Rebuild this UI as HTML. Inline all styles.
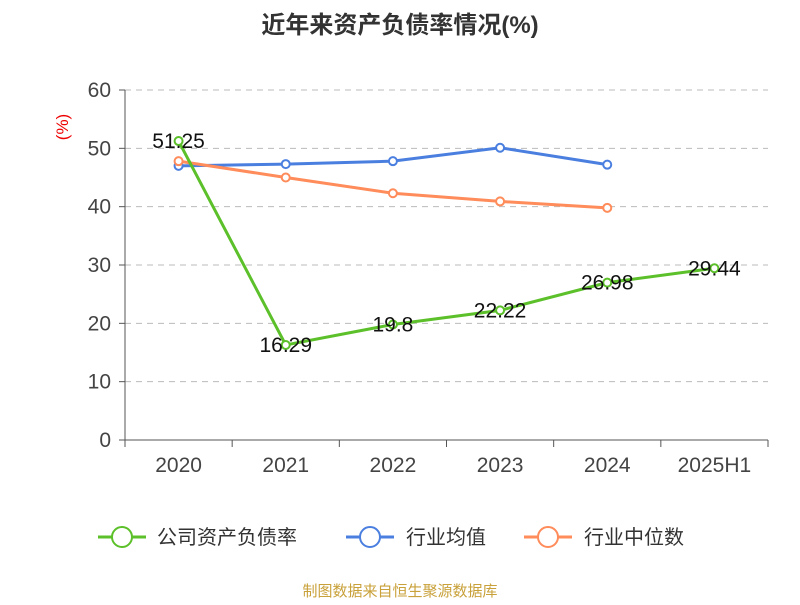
<!DOCTYPE html>
<html><head><meta charset="utf-8"><style>
body{margin:0;background:#fff;font-family:"Liberation Sans","Noto Sans CJK SC",sans-serif;}
</style></head><body>
<svg id="chart" width="800" height="600" xmlns="http://www.w3.org/2000/svg">
<text x="400" y="33" text-anchor="middle" font-size="24" font-weight="bold" fill="#333" font-family="Liberation Sans, Noto Sans CJK SC, sans-serif">近年来资产负债率情况(%)</text>
<text transform="translate(68,127) rotate(-90)" text-anchor="middle" font-size="17" fill="#e00">(%)</text>
<g id="grid"></g><g id="axes"></g><g id="series"></g>
<g font-size="20" fill="#333" font-family="Liberation Sans, Noto Sans CJK SC, sans-serif">
<g><line x1="98" y1="537" x2="146" y2="537" stroke="#5cc02a" stroke-width="3"/><circle cx="122" cy="537" r="10" fill="#fff" stroke="#5cc02a" stroke-width="2"/><text x="157" y="544">公司资产负债率</text></g>
<g><line x1="346" y1="537" x2="394" y2="537" stroke="#4a7fe0" stroke-width="3"/><circle cx="370" cy="537" r="10" fill="#fff" stroke="#4a7fe0" stroke-width="2"/><text x="406" y="544">行业均值</text></g>
<g><line x1="524" y1="537" x2="572" y2="537" stroke="#ff8c5a" stroke-width="3"/><circle cx="548" cy="537" r="10" fill="#fff" stroke="#ff8c5a" stroke-width="2"/><text x="584" y="544">行业中位数</text></g>
</g>
<text x="400" y="596" text-anchor="middle" font-size="15" fill="#c9a13a">制图数据来自恒生聚源数据库</text>
</svg>
<script>
const categories=["2020","2021","2022","2023","2024","2025H1"];
const companyValues=[51.25,16.29,19.8,22.22,26.98,29.44];
const industryAvg=[47.0,47.3,47.8,50.1,47.2];
const industryMedian=[47.8,45.0,42.3,40.9,39.8];
const yTicks=[0,10,20,30,40,50,60];
const NS="http://www.w3.org/2000/svg";
const L=125,R=768,T=90,B=440;
const band=(R-L)/categories.length;
const x=i=>L+band*(i+0.5);
const y=v=>B-(v/60)*(B-T);
function mk(tag,attrs,parent){const e=document.createElementNS(NS,tag);for(const k in attrs)e.setAttribute(k,attrs[k]);parent.appendChild(e);return e;}
const grid=document.getElementById('grid'),axes=document.getElementById('axes'),ser=document.getElementById('series');
yTicks.forEach(t=>{
 if(t>0){const g=mk('line',{x1:L,x2:R,y1:y(t),y2:y(t),stroke:'#bbb','stroke-dasharray':'6,5'},grid);
 
 }
 const tk=mk('line',{x1:L-6,x2:L,y1:y(t),y2:y(t),stroke:'#555'},axes);
 
 
 const tx=mk('text',{x:L-14,y:y(t)+7,'text-anchor':'end','font-size':21,fill:'#444'},axes);tx.textContent=t;
 
 
});
const ya=mk('line',{x1:L,x2:L,y1:T,y2:B,stroke:'#555'},axes);


const xa=mk('line',{x1:L,x2:R,y1:B,y2:B,stroke:'#555'},axes);


for(let i=0;i<=categories.length;i++){const tk=mk('line',{x1:L+band*i,x2:L+band*i,y1:B,y2:B+7,stroke:'#555'},axes);
 
 }
categories.forEach((c,i)=>{const t=mk('text',{x:x(i),y:B+32,'text-anchor':'middle','font-size':21,fill:'#444'},axes);t.textContent=c;
 
 });
function series(vals,color,name,labels){
 const g=mk('g',{},ser);
 
 
 mk('polyline',{points:vals.map((v,i)=>x(i)+','+y(v)).join(' '),fill:'none',stroke:color,'stroke-width':3},g);
 vals.forEach((v,i)=>{const c=mk('circle',{cx:x(i),cy:y(v),r:4,fill:'#fff',stroke:color,'stroke-width':2},g);
  
  
  if(labels){const t=mk('text',{x:x(i),y:y(v)+7,'text-anchor':'middle','font-size':21,fill:'#111'},g);t.textContent=v;
   
   }
 });
}
series(industryAvg,'#4a7fe0','industry-average-line',false);
series(industryMedian,'#ff8c5a','industry-median-line',false);
series(companyValues,'#5cc02a','company-debt-ratio-line',true);
</script>
</body></html>
